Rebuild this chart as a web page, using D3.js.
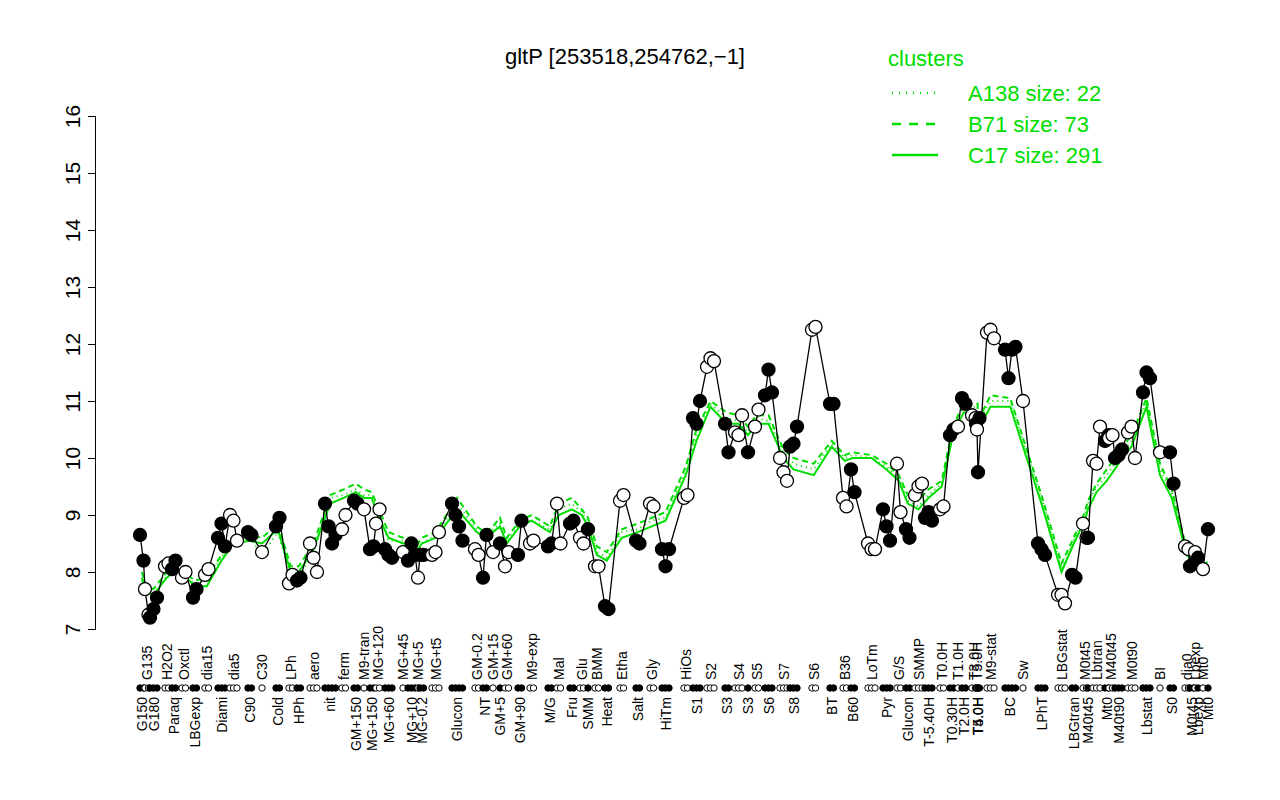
<!DOCTYPE html>
<html><head><meta charset="utf-8">
<script src="https://cdn.jsdelivr.net/npm/d3@7"></script>
<style>body{margin:0;background:#fff}text{font-family:"Liberation Sans",Arial,sans-serif}</style>
</head><body><div id="chart"></div>
<script>
// groups of conditions: label, position along the x axis, filled, values
const groupLabels = ["G150","G135","G180","H2O2","Paraq","Oxctl","LBGexp","dia15","Diami","dia5","C90","C30","Cold","LPh","HPh","aero","nit","ferm","GM+150","M9-tran","MG+150","MG+120",
  "MG+60","MG+45","MG+10","MG+5","MG-0.2","MG+t5","Glucon","GM-0.2","NT","GM+15","GM+5","GM+60","GM+90","M9-exp","M/G",
  "Mal","Fru","Glu","SMM","BMM","Heat","Etha","Salt","Gly","HiTm","HiOs","S1","S2","S3","S4","S3","S5","S6","S7","S8","S6","BT","B36","B60","LoTm","Pyr","G/S","Glucon","SMMP",
  "T-5.40H","T0.0H","T0.30H","T1.0H","T2.0H","T3.0H","T4.0H","T5.0H","T5.0H","M9-stat","BC","Sw","LPhT","LBGstat","LBGtran","M0t45","M40t45","Lbtran","Mt0","M40t45","M40t90","M0t90","Lbstat","BI","S0","dia0","M0t45","Lbexp","Lbexp","Mt0","Mt0"];
const groupPos = [20,25,30,45,52,62,73,85,98,110,128,142,156,169,177,190,205,222,234,244,250,256,
  265,283,288,298,300,312,332,355,363,373,380,385,398,410,428,
  437,450,460,468,475,485,500,516,530,542,564,573,587,605,615,628,635,645,660,670,692,710,723,731,748,763,777,786,795,
  805,820,830,838,842,852,856,857,858,867,885,903,918,938,952,963,968,973,985,989,995,1008,1023,1040,1050,1065,1070,1075,1078,1083,1088];
const groupFilled = [1,0,1,0,1,0,1,0,1,0,1,0,1,0,1,0,1,0,1,0,1,0,
  1,0,1,0,1,0,1,0,1,0,1,0,1,0,1,
  0,1,0,1,0,1,0,1,0,1,0,1,0,1,0,1,0,1,0,1,0,1,0,1,0,1,0,1,0,
  1,0,1,0,1,0,1,0,1,0,1,0,1,0,1,0,1,0,1,0,1,0,1,0,1,0,1,0,1,0,1];
const groupVals = [[8.65,8.2],[7.7,7.25],[7.2,7.35,7.55],[8.1,8.15],[8.05,8.2],[7.9,8.0],[7.55,7.7],[7.95,8.05],[8.6,8.85,8.45],[9.0,8.9,8.55],[8.7,8.65],[8.35],[8.8,8.95],[7.8,7.95],[7.85,7.9],[8.5,8.25,8.0],[9.2,8.8,8.5,8.65],[8.75,9.0],[9.25,9.2],[9.1],[8.4,8.45],[8.85,9.1],
  [8.4,8.3,8.25],[8.35],[8.2,8.5,8.3],[7.9],[8.3,8.3],[8.3,8.35,8.7],[9.2,9.0,8.8,8.55],[8.4,8.3],[7.9,8.65],[8.35],[8.5],[8.1,8.35],[8.3,8.9],[8.5,8.55],[8.45,8.5],
  [9.2,8.5],[8.85,8.9],[8.6,8.5],[8.75],[8.1,8.1],[7.4,7.35],[9.25,9.35],[8.55,8.5],[9.2,9.15],[8.4,8.1,8.4],[9.3,9.35],[10.7,10.6,11.0],[11.6,11.75,11.7],[10.6,10.1],[10.45,10.4,10.75],[10.1],[10.55,10.85],[11.1,11.55,11.15],[10.0,9.75,9.6],[10.2,10.25,10.55],[12.25,12.3],[10.95,10.95],[9.3,9.15],[9.8,9.4],[8.5,8.4,8.4],[9.1,8.8,8.55],[9.9,9.05],[8.75,8.6],[9.35,9.5,9.55],
  [8.95,9.05,8.9],[9.1,9.15],[10.4,10.5],[10.55],[11.05,10.95],[10.75,10.7],[10.6,10.7],[10.5],[9.75],[12.2,12.25,12.1],[11.9,11.4,11.9,11.95],[11.0],[8.5,8.4,8.3],[7.6,7.6,7.45],[7.95,7.9],[8.85,8.6],[8.6],[9.95,9.9,10.55],[10.3,10.4],[10.35,10.4],[10.0,10.05,10.15],[10.45,10.55,10.0],[11.15,11.5,11.4],[10.1],[10.1,9.55],[8.45,8.4],[8.1,8.15],[8.35],[8.25],[8.05],[8.75]];
// cluster profiles, one value per group
const c17 = [7.9,7.65,7.6,7.9,8.0,7.95,7.75,7.75,8.2,8.5,8.55,8.5,8.75,8.0,8.0,8.4,9.2,9.3,9.4,9.3,9.3,9.0,
  8.6,8.5,8.5,8.4,8.5,8.6,9.1,8.7,8.6,8.7,8.8,8.5,8.8,8.9,8.7,
  9.0,9.1,9.0,8.8,8.3,8.2,8.6,8.7,8.8,8.9,9.7,10.3,10.9,10.6,10.6,10.4,10.6,10.6,10.0,9.8,9.7,10.2,9.95,10.0,10.0,9.8,9.6,9.2,9.1,
  9.3,9.5,10.3,10.6,10.8,10.8,10.8,10.5,10.5,10.9,10.9,10.2,9.2,8.0,8.5,8.9,9.1,9.4,9.6,9.7,9.9,10.2,10.9,9.7,9.3,8.3,8.2,8.2,8.1,8.0,8.1];
const b71 = [8.0,7.75,7.7,8.0,8.1,8.0,7.85,7.9,8.3,8.6,8.65,8.6,8.85,8.1,8.1,8.5,9.35,9.45,9.55,9.45,9.4,9.15,
  8.7,8.6,8.6,8.5,8.6,8.7,9.3,8.8,8.7,8.8,8.95,8.6,8.9,9.0,8.8,
  9.2,9.3,9.1,8.95,8.45,8.35,8.75,8.85,8.95,9.05,9.85,10.5,11.0,10.8,10.75,10.55,10.75,10.75,10.15,10.0,9.9,10.3,10.05,10.1,10.05,9.9,9.7,9.35,9.25,
  9.45,9.6,10.45,10.75,10.95,10.95,10.95,10.65,10.65,11.1,11.05,10.35,9.35,8.15,8.6,9.05,9.25,9.55,9.8,9.9,10.1,10.4,11.05,9.9,9.45,8.4,8.3,8.3,8.2,8.1,8.2];
const a138 = [7.85,7.6,7.55,7.95,8.05,7.9,7.8,7.85,8.25,8.55,8.6,8.3,8.7,7.95,7.9,8.35,9.3,9.35,9.45,9.35,9.35,9.05,
  8.55,8.55,8.45,8.35,8.5,8.65,9.2,8.75,8.65,8.75,8.85,8.55,8.85,8.9,8.75,
  9.1,9.2,9.05,8.85,8.35,8.25,8.7,8.75,8.9,8.95,9.8,10.4,10.95,10.7,10.65,10.45,10.7,10.65,10.1,9.9,9.8,10.25,10.0,10.05,10.0,9.85,9.65,9.25,9.15,
  9.35,9.55,10.4,10.7,10.9,10.9,10.9,10.6,10.6,11.0,11.0,10.3,9.3,8.05,8.55,9.0,9.2,9.5,9.7,9.8,10.0,10.3,11.0,9.8,9.4,8.35,8.25,8.25,8.15,8.05,8.15];
const yTicks = [7,8,9,10,11,12,13,14,15,16];
const legendLabels = ["A138 size: 22","B71 size: 73","C17 size: 291"];

const width = 1280, height = 800;
const svg = d3.select("#chart").append("svg").attr("width", width).attr("height", height);
const x = d3.scaleLinear().domain([0, 1100]).range([120, 1220]);
const y = d3.scaleLinear().domain([7, 16]).range([629, 116]);
const green = "#00dd00";

// flatten points
const points = [];
groupLabels.forEach((lab, i) => {
  groupVals[i].forEach((v, j) => points.push({ pos: groupPos[i] + j * 3.5, v, filled: groupFilled[i] }));
});
const centers = groupLabels.map((lab, i) => ({ pos: groupPos[i] + (groupVals[i].length - 1) * 1.75, i }));

// green cluster lines
const clusterLine = arr => d3.line().x(d => x(d.pos)).y(d => y(arr[d.i]));
svg.append("path").datum(centers).attr("d", clusterLine(a138)).attr("fill", "none")
  .attr("stroke", green).attr("stroke-width", 2).attr("stroke-dasharray", "1,4");
svg.append("path").datum(centers).attr("d", clusterLine(b71)).attr("fill", "none")
  .attr("stroke", green).attr("stroke-width", 2).attr("stroke-dasharray", "6,4");
svg.append("path").datum(centers).attr("d", clusterLine(c17)).attr("fill", "none")
  .attr("stroke", green).attr("stroke-width", 2);

// black profile line and points
svg.append("path").datum(points)
  .attr("d", d3.line().x(d => x(d.pos)).y(d => y(d.v)))
  .attr("fill", "none").attr("stroke", "#000").attr("stroke-width", 1.3);
svg.selectAll("circle.pt").data(points).enter().append("circle").attr("class", "pt")
  .attr("cx", d => x(d.pos)).attr("cy", d => y(d.v)).attr("r", 6.5)
  .attr("fill", d => d.filled ? "#000" : "#fff").attr("stroke", "#000").attr("stroke-width", 1.3);

// dot row on the x axis
svg.selectAll("circle.row").data(points).enter().append("circle").attr("class", "row")
  .attr("cx", d => x(d.pos)).attr("cy", 688).attr("r", 3.2)
  .attr("fill", d => d.filled ? "#000" : "#fff").attr("stroke", "#000").attr("stroke-width", 1);

// group labels: hollow above the row, filled below
svg.selectAll("text.lab").data(centers).enter().append("text").attr("class", "lab")
  .attr("transform", d => `translate(${x(d.pos) + 5},${groupFilled[d.i] ? 697 : 680}) rotate(-90)`)
  .attr("text-anchor", d => groupFilled[d.i] ? "end" : "start")
  .attr("font-size", 14).text(d => groupLabels[d.i]);

// y axis
const yAxis = svg.append("g").attr("transform", "translate(95,0)")
  .call(d3.axisLeft(y).tickValues(yTicks).tickSize(7).tickPadding(8));
yAxis.selectAll(".tick text").attr("font-size", 21).attr("text-anchor", "middle")
  .attr("transform", "rotate(-90) translate(0,-22)").attr("x", 0).attr("y", 0).attr("dy", "0.32em");

// title
svg.append("text").attr("x", 625).attr("y", 64).attr("text-anchor", "middle")
  .attr("font-size", 22).text("gltP [253518,254762,\u22121]");

// legend
const lg = svg.append("g");
lg.append("text").attr("x", 888).attr("y", 66).attr("fill", green).attr("font-size", 22).text("clusters");
const dashes = ["1,6", "9,8", null];
legendLabels.forEach((t, i) => {
  const yy = 93 + i * 31;
  const l = lg.append("line").attr("x1", 892).attr("x2", 938).attr("y1", yy).attr("y2", yy)
    .attr("stroke", green).attr("stroke-width", 2.5);
  if (dashes[i]) l.attr("stroke-dasharray", dashes[i]);
  lg.append("text").attr("x", 968).attr("y", yy + 8).attr("fill", green).attr("font-size", 22).text(t);
});
</script></body></html>
